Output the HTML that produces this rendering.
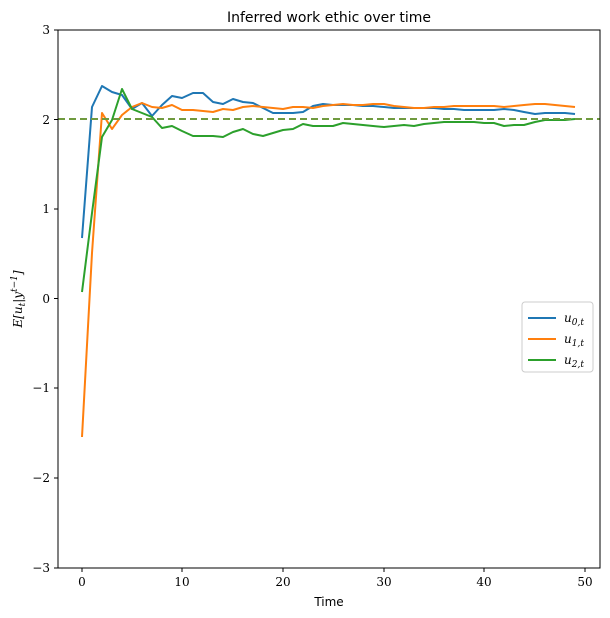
<!DOCTYPE html>
<html><head><style>body{margin:0;background:#fff}svg{display:block;font-family:"DejaVu Serif","Liberation Serif",serif}</style></head><body>
<svg width="610" height="618" xmlns="http://www.w3.org/2000/svg">
<rect width="610" height="618" fill="#fff"/>
<text x="329" y="22" text-anchor="middle" font-size="14" font-family="DejaVu Sans, sans-serif">Inferred work ethic over time</text>
<g fill="none" stroke-width="2" stroke-linejoin="round">
<polyline stroke="#1f77b4" points="82,238 92,107 102,86 112,92 122,95 132,109 142,103 152,116 162,105 172,96 182,98 193,93 203,93 213,102 223,104 233,99 243,102 253,103 263,108 273,113 283,113 293,113 303,112 313,106 323,104 333,105 343,105 353,105 363,106 373,106 384,107 394,108 404,108 414,108 424,108 434,108 444,109 454,109 464,110 474,110 484,110 494,110 504,109 514,110 524,112 535,114 545,113 555,113 565,113 575,114"/>
<polyline stroke="#ff7f0e" points="82,437 92,253 102,113 112,129 122,115 132,107 142,103 152,107 162,108 172,105 182,110 193,110 203,111 213,112 223,109 233,110 243,107 253,106 263,107 273,108 283,109 293,107 303,107 313,108 323,106 333,105 343,104 353,105 363,105 373,104 384,104 394,106 404,107 414,108 424,108 434,107 444,107 454,106 464,106 474,106 484,106 494,106 504,107 514,106 524,105 535,104 545,104 555,105 565,106 575,107"/>
<polyline stroke="#2ca02c" points="82,292 92,213 102,137 112,120 122,89 132,109 142,113 152,117 162,128 172,126 182,131 193,136 203,136 213,136 223,137 233,132 243,129 253,134 263,136 273,133 283,130 293,129 303,124 313,126 323,126 333,126 343,123 353,124 363,125 373,126 384,127 394,126 404,125 414,126 424,124 434,123 444,122 454,122 464,122 474,122 484,123 494,123 504,126 514,125 524,125 535,122 545,120 555,120 565,120 575,119"/>
</g>
<line x1="58" y1="119" x2="600" y2="119" stroke="#6f9a3e" stroke-width="2" stroke-dasharray="7,4"/>
<rect x="58" y="30" width="542" height="538" fill="none" stroke="#000" stroke-width="1"/>
<g stroke="#000" stroke-width="1">
<line x1="82" y1="568" x2="82" y2="572"/><line x1="182" y1="568" x2="182" y2="572"/><line x1="283" y1="568" x2="283" y2="572"/><line x1="384" y1="568" x2="384" y2="572"/><line x1="484" y1="568" x2="484" y2="572"/><line x1="585" y1="568" x2="585" y2="572"/>
<line x1="54" y1="30" x2="58" y2="30"/><line x1="54" y1="119.5" x2="58" y2="119.5"/><line x1="54" y1="209" x2="58" y2="209"/><line x1="54" y1="298.5" x2="58" y2="298.5"/><line x1="54" y1="388" x2="58" y2="388"/><line x1="54" y1="478" x2="58" y2="478"/><line x1="54" y1="568" x2="58" y2="568"/>
</g>
<g font-size="12" text-anchor="middle">
<text x="82" y="586">0</text><text x="182" y="586">10</text><text x="283" y="586">20</text><text x="384" y="586">30</text><text x="484" y="586">40</text><text x="585" y="586">50</text>
</g>
<g font-size="12" text-anchor="end">
<text x="50" y="34">3</text><text x="50" y="124">2</text><text x="50" y="213">1</text><text x="50" y="303">0</text><text x="50" y="392">−1</text><text x="50" y="482">−2</text><text x="50" y="572">−3</text>
</g>
<text x="329" y="606" text-anchor="middle" font-size="12" font-family="DejaVu Sans, sans-serif">Time</text>
<text transform="translate(22,299) rotate(-90)" text-anchor="middle" font-size="12" font-style="italic">E[u<tspan font-size="9" dy="3">t</tspan><tspan dy="-3">|y</tspan><tspan font-size="9" dy="-5">t−1</tspan><tspan dy="5">]</tspan></text>
<rect x="522" y="302" width="71" height="70" rx="3" fill="#fff" stroke="#ccc"/>
<line x1="528" y1="318" x2="556" y2="318" stroke="#1f77b4" stroke-width="2"/>
<line x1="528" y1="339" x2="556" y2="339" stroke="#ff7f0e" stroke-width="2"/>
<line x1="528" y1="360" x2="556" y2="360" stroke="#2ca02c" stroke-width="2"/>
<g font-size="12" font-style="italic">
<text x="564" y="322">u<tspan font-size="9" dy="3">0,t</tspan></text>
<text x="564" y="343">u<tspan font-size="9" dy="3">1,t</tspan></text>
<text x="564" y="364">u<tspan font-size="9" dy="3">2,t</tspan></text>
</g>
</svg>
</body></html>
